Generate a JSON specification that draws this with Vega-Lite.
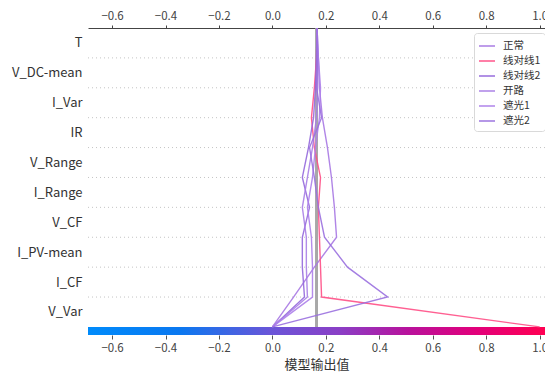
{
  "$schema": "https://vega.github.io/schema/vega-lite/v6.json",
  "width": 457,
  "height": 307,
  "autosize": {"type": "none"},
  "padding": {"left": 88, "top": 28, "right": 0, "bottom": 37},
  "background": "white",
  "config": {
    "view": {"stroke": null},
    "font": "Noto Sans CJK SC"
  },
  "data": {
    "values": [
      {"series": "正常", "level": 10, "value": 0.167},
      {"series": "正常", "level": 9, "value": 0.172},
      {"series": "正常", "level": 8, "value": 0.176},
      {"series": "正常", "level": 7, "value": 0.187},
      {"series": "正常", "level": 6, "value": 0.206},
      {"series": "正常", "level": 5, "value": 0.221},
      {"series": "正常", "level": 4, "value": 0.232},
      {"series": "正常", "level": 3, "value": 0.240},
      {"series": "正常", "level": 2, "value": 0.157},
      {"series": "正常", "level": 1, "value": 0.079},
      {"series": "正常", "level": 0, "value": 0.0},
      {"series": "线对线1", "level": 10, "value": 0.167},
      {"series": "线对线1", "level": 9, "value": 0.165},
      {"series": "线对线1", "level": 8, "value": 0.157},
      {"series": "线对线1", "level": 7, "value": 0.146},
      {"series": "线对线1", "level": 6, "value": 0.157},
      {"series": "线对线1", "level": 5, "value": 0.180},
      {"series": "线对线1", "level": 4, "value": 0.172},
      {"series": "线对线1", "level": 3, "value": 0.176},
      {"series": "线对线1", "level": 2, "value": 0.180},
      {"series": "线对线1", "level": 1, "value": 0.184},
      {"series": "线对线1", "level": 0, "value": 1.0},
      {"series": "线对线2", "level": 10, "value": 0.167},
      {"series": "线对线2", "level": 9, "value": 0.165},
      {"series": "线对线2", "level": 8, "value": 0.161},
      {"series": "线对线2", "level": 7, "value": 0.154},
      {"series": "线对线2", "level": 6, "value": 0.135},
      {"series": "线对线2", "level": 5, "value": 0.112},
      {"series": "线对线2", "level": 4, "value": 0.139},
      {"series": "线对线2", "level": 3, "value": 0.112},
      {"series": "线对线2", "level": 2, "value": 0.112},
      {"series": "线对线2", "level": 1, "value": 0.120},
      {"series": "线对线2", "level": 0, "value": 0.0},
      {"series": "开路", "level": 10, "value": 0.167},
      {"series": "开路", "level": 9, "value": 0.169},
      {"series": "开路", "level": 8, "value": 0.169},
      {"series": "开路", "level": 7, "value": 0.165},
      {"series": "开路", "level": 6, "value": 0.150},
      {"series": "开路", "level": 5, "value": 0.131},
      {"series": "开路", "level": 4, "value": 0.112},
      {"series": "开路", "level": 3, "value": 0.127},
      {"series": "开路", "level": 2, "value": 0.127},
      {"series": "开路", "level": 1, "value": 0.131},
      {"series": "开路", "level": 0, "value": 0.0},
      {"series": "遮光1", "level": 10, "value": 0.167},
      {"series": "遮光1", "level": 9, "value": 0.172},
      {"series": "遮光1", "level": 8, "value": 0.180},
      {"series": "遮光1", "level": 7, "value": 0.176},
      {"series": "遮光1", "level": 6, "value": 0.161},
      {"series": "遮光1", "level": 5, "value": 0.150},
      {"series": "遮光1", "level": 4, "value": 0.131},
      {"series": "遮光1", "level": 3, "value": 0.146},
      {"series": "遮光1", "level": 2, "value": 0.150},
      {"series": "遮光1", "level": 1, "value": 0.150},
      {"series": "遮光1", "level": 0, "value": 0.0},
      {"series": "遮光2", "level": 10, "value": 0.167},
      {"series": "遮光2", "level": 9, "value": 0.169},
      {"series": "遮光2", "level": 8, "value": 0.165},
      {"series": "遮光2", "level": 7, "value": 0.184},
      {"series": "遮光2", "level": 6, "value": 0.139},
      {"series": "遮光2", "level": 5, "value": 0.157},
      {"series": "遮光2", "level": 4, "value": 0.172},
      {"series": "遮光2", "level": 3, "value": 0.195},
      {"series": "遮光2", "level": 2, "value": 0.281},
      {"series": "遮光2", "level": 1, "value": 0.431},
      {"series": "遮光2", "level": 0, "value": 0.0}
    ]
  },
  "resolve": {"axis": {"x": "independent", "y": "independent"}},
  "layer": [
    {
      "transform": [
        {"filter": "datum.level >= 1 && datum.level <= 9"},
        {"aggregate": [{"op": "count", "as": "n"}], "groupby": ["level"]}
      ],
      "mark": {"type": "rule", "stroke": "#c4c4c4", "strokeWidth": 1, "strokeDash": [1, 3]},
      "encoding": {
        "y": {"field": "level", "type": "quantitative", "axis": null,
              "scale": {"domain": [-0.27, 10], "nice": false, "zero": false}}
      }
    },
    {
      "mark": {"type": "rect", "color": {"gradient": "linear", "x1": 0, "y1": 0, "x2": 1, "y2": 0,
        "stops": [
          {"offset": 0, "color": "#008bfb"},
          {"offset": 0.2, "color": "#0a78f0"},
          {"offset": 0.4, "color": "#6a55d8"},
          {"offset": 0.55, "color": "#8a3fc6"},
          {"offset": 0.7, "color": "#b8129c"},
          {"offset": 0.85, "color": "#e2007a"},
          {"offset": 1, "color": "#ff0052"}
        ]}},
      "encoding": {
        "x": {"datum": -0.69, "type": "quantitative",
              "scale": {"domain": [-0.69, 1.02], "nice": false, "zero": false},
              "axis": {"orient": "bottom", "title": "模型输出值", "values": [-0.6, -0.4, -0.2, 0, 0.2, 0.4, 0.6, 0.8, 1.0],
                       "format": ".1f", "domain": false, "grid": false, "tickColor": "#555", "tickSize": 4,
                       "labelFontSize": 11.5, "labelColor": "#444", "labelPadding": 3, "labelFont": "Noto Sans CJK SC",
                       "titleFontSize": 13, "titleFontWeight": "normal", "titleColor": "#333", "titlePadding": 5, "titleFont": "Noto Sans CJK SC"}},
        "x2": {"datum": 1.02},
        "y": {"datum": -0.27, "type": "quantitative", "axis": null},
        "y2": {"datum": 0}
      }
    },
    {
      "mark": {"type": "rule", "stroke": "#a8a8a8", "strokeWidth": 2},
      "encoding": {
        "x": {"datum": 0.1667, "type": "quantitative", "axis": null},
        "y": {"datum": 0, "type": "quantitative", "axis": null},
        "y2": {"datum": 10}
      }
    },
    {
      "mark": {"type": "line", "strokeWidth": 1.4, "opacity": 0.9},
      "encoding": {
        "x": {"field": "value", "type": "quantitative",
              "axis": {"orient": "top", "title": null, "values": [-0.6, -0.4, -0.2, 0, 0.2, 0.4, 0.6, 0.8, 1.0],
                       "format": ".1f", "domain": true, "domainColor": "#444", "grid": false, "tickColor": "#444", "tickSize": 3,
                       "labelFontSize": 11.5, "labelColor": "#444", "labelPadding": 4, "labelFont": "Noto Sans CJK SC"}},
        "y": {"field": "level", "type": "quantitative", "title": null,
              "scale": {"domain": [-0.27, 10], "nice": false, "zero": false},
              "axis": {"values": [0.5, 1.5, 2.5, 3.5, 4.5, 5.5, 6.5, 7.5, 8.5, 9.5],
                       "labelExpr": "['V_Var','I_CF','I_PV-mean','V_CF','I_Range','V_Range','IR','I_Var','V_DC-mean','T'][floor(datum.value)]",
                       "domain": false, "ticks": false, "grid": false, "labelPadding": 6,
                       "labelFontSize": 13, "labelColor": "#333", "labelFont": "Noto Sans CJK SC"}},
        "order": {"field": "level", "type": "quantitative"},
        "color": {"field": "series", "type": "nominal",
                  "scale": {"domain": ["正常", "线对线1", "线对线2", "开路", "遮光1", "遮光2"],
                            "range": ["#a778e3", "#ff4f86", "#9468dc", "#a97ee6", "#ad80ea", "#9a70df"]},
                  "legend": {"orient": "none", "legendX": 386, "legendY": 5, "title": null,
                             "symbolType": "stroke", "symbolSize": 256, "symbolStrokeWidth": 1.6,
                             "labelFontSize": 10.5, "labelFont": "Noto Sans CJK SC", "labelColor": "#333",
                             "labelOffset": 7, "padding": 4, "rowPadding": 0,
                             "strokeColor": "#d9d9d9", "fillColor": "white", "cornerRadius": 3}}
      }
    }
  ]
}
